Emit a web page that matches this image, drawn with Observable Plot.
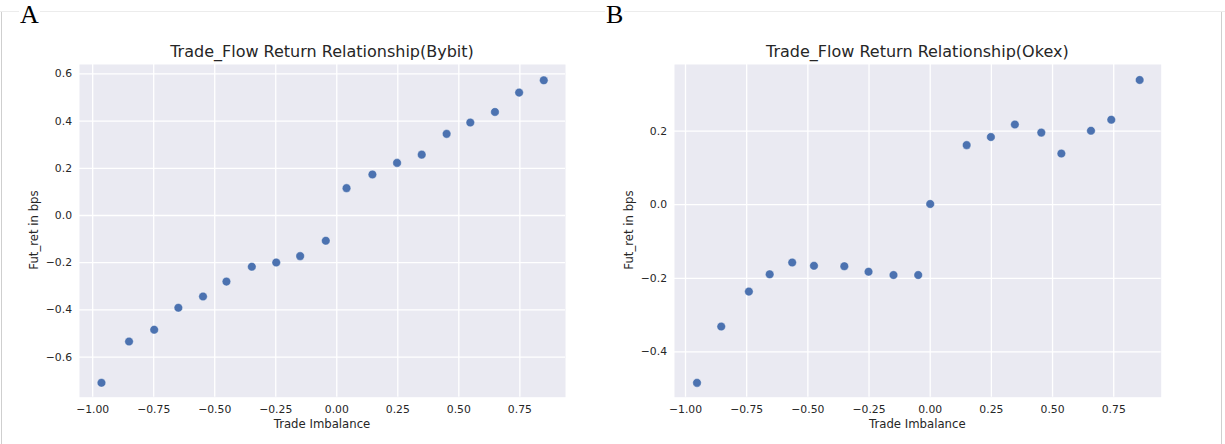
<!DOCTYPE html>
<html>
<head>
<meta charset="utf-8">
<script src="https://cdn.jsdelivr.net/npm/d3@7"></script>
<script src="https://cdn.jsdelivr.net/npm/@observablehq/plot@0.6"></script>
<style>
  html, body { margin: 0; padding: 0; background: #fff; }
  #page { position: relative; width: 1225px; height: 444px; overflow: hidden; font-family: "DejaVu Sans", sans-serif; color: #262626; }
  .frame-top { position: absolute; left: 0; top: 11px; width: 1225px; height: 1px; background: #ececec; }
  .frame-left { position: absolute; left: 1px; top: 12px; width: 1px; height: 432px; background: #cfcfcf; }
  .frame-right { position: absolute; left: 1221px; top: 12px; width: 1px; height: 432px; background: #cfcfcf; }
  .panel-letter { position: absolute; font-family: "Liberation Serif", "DejaVu Serif", serif; font-size: 26px; line-height: 30px; color: #000; background: #fff; padding: 0 1px; }
  .title { position: absolute; text-align: center; font-size: 16px; line-height: 16px; white-space: nowrap; }
  .xlabel { position: absolute; text-align: center; font-size: 11.7px; line-height: 12px; white-space: nowrap; }
  .ylabel { position: absolute; font-size: 11.7px; line-height: 12px; white-space: nowrap; transform: translate(-50%, -50%) rotate(-90deg); }
  .plot { position: absolute; top: 0; }
</style>
</head>
<body>
<div id="page">
  <div class="frame-top"></div>
  <div class="frame-left"></div>
  <div class="frame-right"></div>
</div>
<script>
// ---- Data ----
const bybitImbalance = [-0.964, -0.851, -0.748, -0.649, -0.548, -0.452, -0.348, -0.248, -0.150, -0.045, 0.040, 0.146, 0.247, 0.348, 0.450, 0.547, 0.648, 0.747, 0.848];
const bybitReturn    = [-0.709, -0.534, -0.484, -0.391, -0.343, -0.280, -0.217, -0.199, -0.172, -0.107, 0.116, 0.174, 0.223, 0.258, 0.346, 0.394, 0.439, 0.521, 0.573];

const okexImbalance = [-0.953, -0.854, -0.741, -0.656, -0.564, -0.475, -0.351, -0.252, -0.150, -0.049, 0.000, 0.149, 0.248, 0.346, 0.454, 0.536, 0.657, 0.740, 0.856];
const okexReturn    = [-0.484, -0.331, -0.236, -0.189, -0.157, -0.166, -0.167, -0.182, -0.191, -0.191, 0.002, 0.162, 0.184, 0.218, 0.196, 0.139, 0.201, 0.231, 0.339];

const xTicks = [-1.00, -0.75, -0.50, -0.25, 0.00, 0.25, 0.50, 0.75];
const bybitYTicks = [-0.6, -0.4, -0.2, 0.0, 0.2, 0.4, 0.6];
const okexYTicks = [-0.4, -0.2, 0.0, 0.2];

const titles = ["Trade_Flow Return Relationship(Bybit)", "Trade_Flow Return Relationship(Okex)"];
const xLabel = "Trade Imbalance";
const yLabel = "Fut_ret in bps";
const panelLetters = ["A", "B"];

// ---- Layout ----
const panels = [
  { imb: bybitImbalance, ret: bybitReturn, yTicks: bybitYTicks, title: titles[0], letter: panelLetters[0],
    svgLeft: 0, width: 600, mL: 79, mR: 35, xDomain: [-1.054, 0.937], yDomain: [-0.770, 0.640], letterX: 19, ylabelX: 33.6 },
  { imb: okexImbalance, ret: okexReturn, yTicks: okexYTicks, title: titles[1], letter: panelLetters[1],
    svgLeft: 600, width: 625, mL: 74, mR: 64.3, xDomain: [-1.045, 0.944], yDomain: [-0.523, 0.381], letterX: 605, ylabelX: 628.8 }
];
const H = 444, mT = 64, mB = 47.3;

const page = document.getElementById("page");
const fmtX = d3.format(".2f");
const fmtY = d3.format(".1f");

for (const p of panels) {
  const data = p.imb.map((x, i) => ({ x, y: p.ret[i] }));
  const chart = Plot.plot({
    width: p.width,
    height: H,
    marginLeft: p.mL,
    marginRight: p.mR,
    marginTop: mT,
    marginBottom: mB,
    style: { fontFamily: "DejaVu Sans, sans-serif", fontSize: "10.8px", color: "#262626", background: "transparent" },
    x: { domain: p.xDomain },
    y: { domain: p.yDomain },
    marks: [
      Plot.frame({ fill: "#EAEAF2", stroke: null }),
      Plot.gridX(xTicks, { stroke: "white", strokeOpacity: 1, strokeWidth: 1.3 }),
      Plot.gridY(p.yTicks, { stroke: "white", strokeOpacity: 1, strokeWidth: 1.3 }),
      Plot.axisX(xTicks, { tickSize: 0, tickPadding: 8.5, tickFormat: fmtX, label: null }),
      Plot.axisY(p.yTicks, { tickSize: 0, tickPadding: 7.5, tickFormat: fmtY, label: null }),
      Plot.dot(data, { x: "x", y: "y", r: 4.3, fill: "#4C72B0", stroke: "white", strokeWidth: 0.4 })
    ]
  });
  chart.classList.add("plot");
  chart.style.left = p.svgLeft + "px";
  page.appendChild(chart);

  const plotLeft = p.svgLeft + p.mL;
  const plotW = p.width - p.mL - p.mR;

  const t = document.createElement("div");
  t.className = "title";
  t.textContent = p.title;
  t.style.left = plotLeft + "px";
  t.style.width = plotW + "px";
  t.style.top = (52.3 - 8) + "px";
  page.appendChild(t);

  const xl = document.createElement("div");
  xl.className = "xlabel";
  xl.textContent = xLabel;
  xl.style.left = plotLeft + "px";
  xl.style.width = plotW + "px";
  xl.style.top = (424.3 - 6) + "px";
  page.appendChild(xl);

  const yl = document.createElement("div");
  yl.className = "ylabel";
  yl.textContent = yLabel;
  yl.style.left = p.ylabelX + "px";
  yl.style.top = (mT + (H - mT - mB) / 2) + "px";
  page.appendChild(yl);

  const L = document.createElement("div");
  L.className = "panel-letter";
  L.textContent = p.letter;
  L.style.left = p.letterX + "px";
  L.style.top = "0px";
  page.appendChild(L);
}
</script>
</body>
</html>
